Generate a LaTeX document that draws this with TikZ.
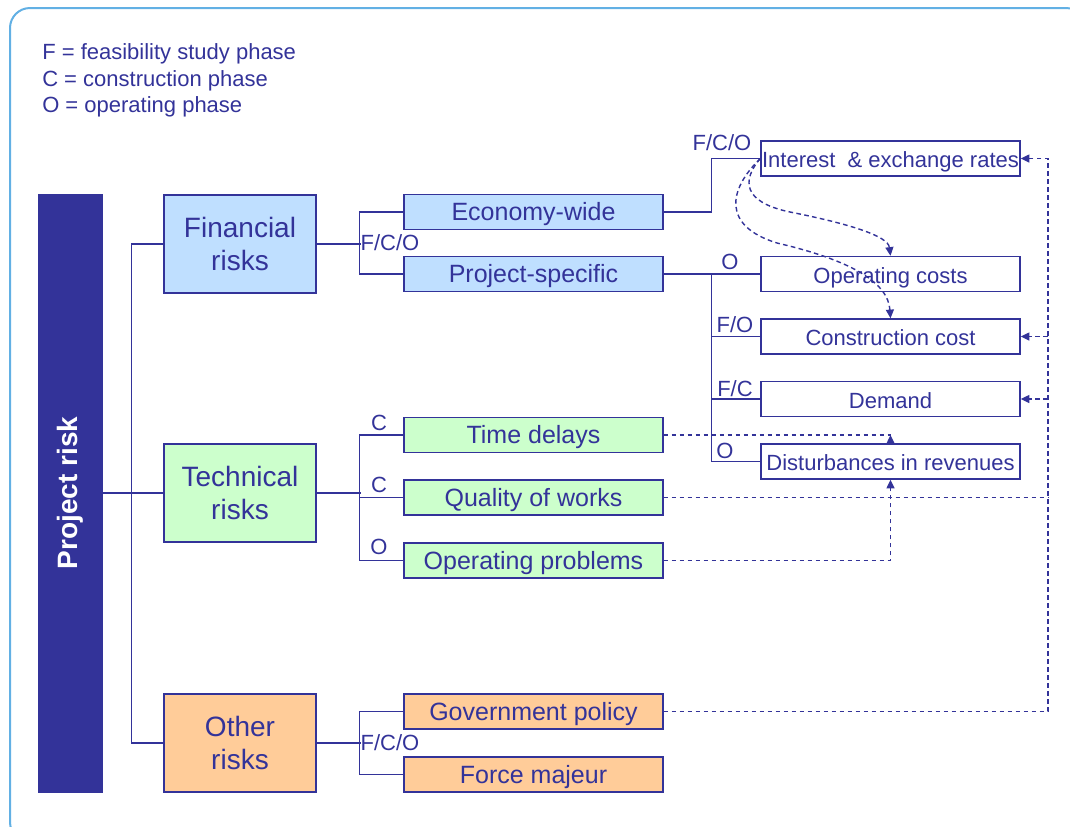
\documentclass[tikz,border=0pt]{standalone}
\usepackage{fontspec}
\setmainfont{Liberation Sans}
\usetikzlibrary{calc,arrows.meta}
\definecolor{ink}{HTML}{333399}
\definecolor{finfill}{HTML}{BFDFFF}
\definecolor{techfill}{HTML}{CCFFCC}
\definecolor{othfill}{HTML}{FFCC99}
\definecolor{framecol}{HTML}{62B0E4}
\begin{document}
\begin{tikzpicture}[x=0.75pt,y=-0.75pt,
  every node/.style={text=ink, inner sep=0pt},
  tree/.style={draw=ink, line width=1.1pt},
  dep/.style={draw=ink, line width=1.05pt, dash pattern=on 3.5pt off 2.5pt},
  tip/.style={-{Triangle[length=6.5pt,width=6pt]}},
  catbox/.style={draw=ink, line width=1.1pt, minimum width=114pt, minimum height=73.5pt,
    align=center, font=\fontsize{21}{25}\selectfont},
  subbox/.style={draw=ink, line width=1.1pt, minimum width=194.25pt, minimum height=26.25pt,
    text height=16pt, text depth=3.2pt, font=\fontsize{18.75}{20}\selectfont},
  effbox/.style={draw=ink, line width=1.1pt, fill=white, minimum width=194.25pt, minimum height=26.25pt,
    text height=15.5pt, text depth=2pt, font=\fontsize{16.5}{18}\selectfont},
  lbl/.style={font=\fontsize{16.5}{18}\selectfont},
  legend/.style={anchor=base west, font=\fontsize{16.5}{18}\selectfont}]

\useasboundingbox (0,0) rectangle (1070,826);

% outer frame
\begin{scope}
  \clip (0,0) rectangle (1070,826);
  \draw[framecol, line width=1.5pt, rounded corners=15pt] (10,8) rectangle (1086,842);
\end{scope}

% legend
\node[legend] (legF) at (42,59) {F = feasibility study phase};
\node[legend] (legC) at (42,86) {C = construction phase};
\node[legend] (legO) at (42,112) {O = operating phase};

% root bar
\node[fill=ink, draw=ink, rotate=90, minimum width=448.5pt, minimum height=48pt,
      text=white, font=\fontsize{21}{24}\selectfont\bfseries] (proj) at (70,493) {Project risk};

% risk categories
\node[catbox, fill=finfill]  (fin)  at (240,244) {Financial\\risks};
\node[catbox, fill=techfill] (tech) at (240,493) {Technical\\risks};
\node[catbox, fill=othfill]  (oth)  at (240,743) {Other\\risks};

% sub-risks
\node[subbox, fill=finfill]  (econ)  at (533.5,212)   {Economy-wide};
\node[subbox, fill=finfill]  (spec)  at (533.5,274)   {Project-specific};
\node[subbox, fill=techfill] (time)  at (533.5,435)   {Time delays};
\node[subbox, fill=techfill] (qual)  at (533.5,497.5) {Quality of works};
\node[subbox, fill=techfill] (opp)   at (533.5,560.5) {Operating problems};
\node[subbox, fill=othfill]  (gov)   at (533.5,711.5) {Government policy};
\node[subbox, fill=othfill]  (force) at (533.5,774.5) {Force majeur};

% effects
\node[effbox] (rate)  at (890.5,158.5) {Interest~~\& exchange rates};
\node[effbox] (ocost) at (890.5,274)   {Operating costs};
\node[effbox] (ccost) at (890.5,336.5) {Construction cost};
\node[effbox] (dem)   at (890.5,399)   {Demand};
\node[effbox] (dist)  at (890.5,461.5) {Disturbances in revenues};

% main tree
\draw[tree] (proj.south) -- (tech.west);
\draw[tree] (fin.west) -- ++(-32,0) |- (oth.west);

\draw[tree] (fin.east) -- ++(44,0);
\draw[tree] (econ.west) -- ++(-44,0) |- (spec.west);
\node[lbl] (lfin) at (390,243) {F/C/O};

\draw[tree] (tech.east) -- ++(44,0);
\draw[tree] (time.west) -- ++(-44,0) |- (opp.west);
\draw[tree] (qual.west) -- ++(-44,0);
\node[lbl] (ltime) at (379,423) {C};
\node[lbl] (lqual) at (379,485) {C};
\node[lbl] (lopp)  at (379,547) {O};

\draw[tree] (oth.east) -- ++(44,0);
\draw[tree] (gov.west) -- ++(-44,0) |- (force.west);
\node[lbl] (loth) at (390,743) {F/C/O};

% effect branches
\draw[tree] (econ.east) -- ++(48,0) |- (rate.west);
\node[lbl] (lrate) at (722,143) {F/C/O};

\draw[tree] (spec.east) -- (ocost.west);
\coordinate (sj) at ($(spec.east)+(48,0)$);
\draw[tree] (sj) |- (dist.west);
\draw[tree] (sj) |- (ccost.west);
\draw[tree] (sj) |- (dem.west);
\node[lbl] (locost) at (730,262) {O};
\node[lbl] (lccost) at (735,325) {F/O};
\node[lbl] (ldem)   at (735,389) {F/C};
\node[lbl] (ldist)  at (725,451) {O};

% dependencies
\draw[dep, tip] (rate.west) .. controls (742,180) and (742,202) .. (790,212)
  .. controls (850,224) and (888,236) .. (ocost.north);
\draw[dep, tip] (rate.west) .. controls (728,190) and (722,226) .. (777,243)
  .. controls (850,260) and (888,282) .. (ccost.north);

\coordinate (busx) at (1048,0);
\draw[dep, tip] (gov.east) -| (rate.east -| busx) -- (rate.east);
\draw[dep, tip] (ccost.east -| busx) -- (ccost.east);
\draw[dep, tip] (dem.east -| busx) -- (dem.east);
\draw[dep] (qual.east) -- (qual.east -| busx);

\draw[dep] (time.east) -- (time.east -| dist.north) coordinate (tj);
\draw[dep, tip] (dist.north) -- (tj);
\draw[dep, tip] (opp.east) -| (dist.south);

\end{tikzpicture}
\end{document}
